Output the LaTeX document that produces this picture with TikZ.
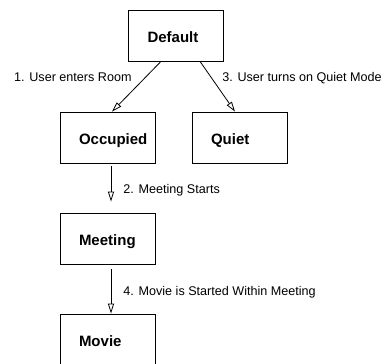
\documentclass[tikz,border=0pt]{standalone}
\usepackage{fontspec}
\setmainfont{Liberation Sans}
\usepackage{tikz}
\usetikzlibrary{positioning}
\usetikzlibrary{arrows.meta}
\tikzset{>={Triangle[open,length=10pt,width=6pt]}}
\tikzstyle{line} = [draw, ->, line width=0.8pt]
\hfuzz=100pt

\begin{document}
\begin{tikzpicture}[
  x=1pt, y=-1pt,
  box/.style={draw, rectangle, line width=0.8pt, minimum height=51pt,
    text width=57pt, inner xsep=19pt, inner ysep=0pt, align=left,
    text height=13pt, text depth=0pt,
    font=\fontsize{15}{18}\selectfont\bfseries},
  lbl/.style={font=\fontsize{12.6}{15}\selectfont,
    text height=9pt, text depth=2.5pt}]
	\useasboundingbox (0,0) rectangle (383,364);
	\clip (0,0) rectangle (383,364);
	%% States
	\node [box] at (176,35.5) (D) {Default};
	\node [box] at (107.5,137.5) (O) {Occupied};
	\node [box] at (239.5,137.5) (Q) {Quiet};
	\node [box] at (107.5,238.5) (M) {Meeting};
	\node [box] at (107.5,339.5) (Mo) {Movie};
	%% Flows
	\path [line] ([xshift=-15pt]D.south) to node [lbl, pos=0.34, left=9pt] {1. User enters Room} ([xshift=4.5pt]O.north);
	\path [line] ([xshift=24pt]D.south) to node [lbl, pos=0.34, right=6.7pt] {3. User turns on Quiet Mode} ([xshift=-4.5pt]Q.north);
	\path [line] ([xshift=3.5pt,yshift=-3pt]O.south) to node [lbl, pos=0.67, right=8.7pt] {2. Meeting Starts} ([xshift=3.5pt,yshift=11pt]M.north);
	\path [line] ([xshift=3.5pt,yshift=-5pt]M.south) to node [lbl, pos=0.52, right=8.7pt] {4. Movie is Started Within Meeting} ([xshift=3.5pt]Mo.north);
\end{tikzpicture}
\end{document}
